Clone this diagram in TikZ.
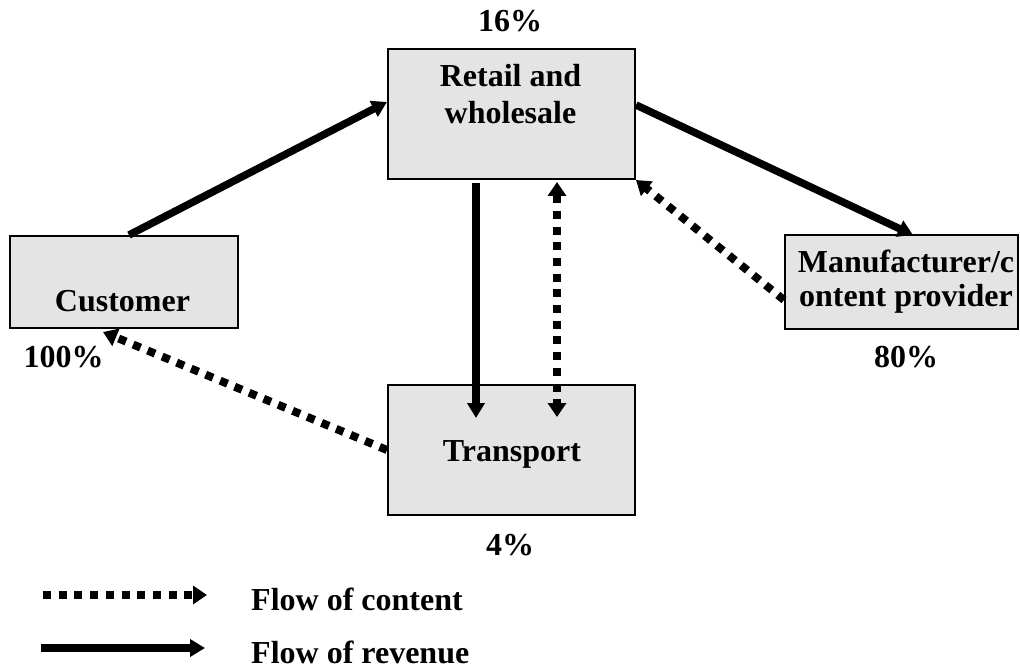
\documentclass[tikz,border=0pt]{standalone}
\usepackage{fontspec}
\setmainfont{Liberation Serif}
\usetikzlibrary{arrows.meta}
\definecolor{boxgray}{RGB}{228,228,228}
\tikzset{
  box/.style={draw=black, line width=2pt, fill=boxgray, inner sep=0pt, anchor=north west},
  lbl/.style={inner sep=0pt, anchor=base, font=\fontsize{32}{37}\selectfont\bfseries},
  revenue/.style={line width=7.5pt, -{Triangle[length=15pt,width=17pt]}},
  content/.style={line width=8pt, dash pattern=on 8pt off 7.7pt, -{Triangle[length=14pt,width=18pt]}},
}
\begin{document}
\begin{tikzpicture}[x=1pt, y=-1pt]
\useasboundingbox (0,0) rectangle (1020,668);

% boxes
\node[box, minimum width=247pt, minimum height=130pt] (retail) at (387,48) {};
\node[box, minimum width=228pt, minimum height=92pt] (cust) at (9,235) {};
\node[box, minimum width=233pt, minimum height=94pt] (manu) at (784,234) {};
\node[box, minimum width=247pt, minimum height=130pt] (trans) at (387,384) {};

% box texts
\node[lbl] (retailA) at (510.5,87) {Retail and};
\node[lbl] (retailB) at (510.5,124) {wholesale};
\node[lbl] (custT) at (122.5,312) {Customer};
\node[lbl] (manuA) at (906,273) {Manufacturer/c};
\node[lbl] (manuB) at (906,307) {ontent provider};
\node[lbl] (transT) at (512,461) {Transport};

% shares
\node[lbl] (p16) at (510,32) {16\%};
\node[lbl] (p100) at (63.5,367) {100\%};
\node[lbl] (p80) at (906,367) {80\%};
\node[lbl] (p4) at (510,555) {4\%};

% flows of revenue
\draw[revenue] ([xshift=120pt]cust.north west) -- ([yshift=-54pt]retail.north west);
\draw[revenue] ([yshift=-57pt]retail.north east) -- ([xshift=129pt,yshift=-1pt]manu.north west);
\draw[revenue] ([xshift=89pt,yshift=-3pt]retail.south west) -- ([xshift=89pt,yshift=-34pt]trans.north west);

% flows of content
\draw[content, {Triangle[length=14pt,width=18pt]}-{Triangle[length=14pt,width=18pt]}]
  ([xshift=170pt,yshift=-2pt]retail.south west) -- ([xshift=170pt,yshift=-33pt]trans.north west);
\draw[content] ([yshift=-66pt]manu.north west) -- (retail.south east);
\draw[content] ([yshift=-66pt]trans.north west) -- ([xshift=94pt,yshift=-3pt]cust.south west);

% legend
\coordinate (lc0) at (43,595);
\coordinate (lc1) at (207,595);
\coordinate (lr0) at (41,648);
\coordinate (lr1) at (205,648);
\draw[content] (lc0) -- (lc1);
\draw[revenue] (lr0) -- (lr1);
\node[lbl, anchor=base west] (legC) at (251,610) {Flow of content};
\node[lbl, anchor=base west] (legR) at (251,663) {Flow of revenue};
\end{tikzpicture}
\end{document}
